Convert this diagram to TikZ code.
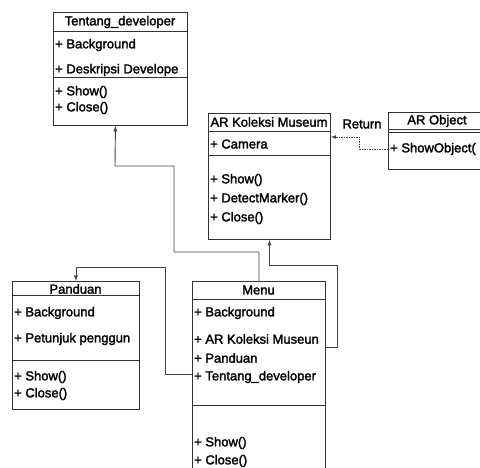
\documentclass[tikz,border=0pt]{standalone}
\usepackage{fontspec}
\setmainfont{Liberation Sans}
\newfontfamily\umlfont[FakeBold=2]{Liberation Sans}
\usetikzlibrary{arrows}

\definecolor{boxgray}{HTML}{333333}
\definecolor{linegray}{HTML}{444444}

\tikzset{
	umlbox/.style={draw=boxgray,line width=0.9pt,inner sep=0pt,anchor=north west},
	sep/.style={draw=boxgray,line width=0.9pt},
	member/.style={anchor=west,inner sep=0pt,font=\umlfont\fontsize{13}{15}\selectfont},
	classname/.style={anchor=center,inner sep=0pt,font=\umlfont\fontsize{13}{15}\selectfont},
	link/.style={draw=linegray,line width=0.9pt,-latex},
	returnlink/.style={draw=linegray,line width=0.7pt,dashed,dash pattern=on 1.5pt off 1pt,-latex}
}

\begin{document}
\begin{tikzpicture}[x=1pt,y=-1pt]
		
		\useasboundingbox (0,0) rectangle (480,468);
		\clip (0,0) rectangle (480,468);
		
		% Tentang_developer
		\node[umlbox,minimum width=134pt,minimum height=113pt] (tentang) at (53,12) {};
		\draw[sep] (53,31) -- (187,31);
		\draw[sep] (53,77) -- (187,77);
		\node[classname] (tentang-name) at (120,22) {Tentang\_developer};
		\node[member] (tentang-a1) at (55,45) {+ Background};
		\node[member] (tentang-a2) at (55,70) {+ Deskripsi Develope};
		\node[member] (tentang-m1) at (55,92) {+ Show()};
		\node[member] (tentang-m2) at (55,108) {+ Close()};
		
		% AR Koleksi Museum
		\node[umlbox,minimum width=122pt,minimum height=126pt] (koleksi) at (208,113) {};
		\draw[sep] (208,131) -- (330,131);
		\draw[sep] (208,155) -- (330,155);
		\node[classname] (koleksi-name) at (269,122) {AR Koleksi Museum};
		\node[member] (koleksi-a1) at (210,144) {+ Camera};
		\node[member] (koleksi-m1) at (210,180) {+ Show()};
		\node[member] (koleksi-m2) at (210,199) {+ DetectMarker()};
		\node[member] (koleksi-m3) at (210,218) {+ Close()};
		
		% AR Object
		\node[umlbox,minimum width=100pt,minimum height=57pt] (object) at (388,112) {};
		\draw[sep] (388,129) -- (488,129);
		\draw[sep] (388,132) -- (488,132);
		\node[classname] (object-name) at (437,121) {AR Object};
		\node[member] (object-m1) at (390,149) {+ ShowObject(};
		
		% Panduan
		\node[umlbox,minimum width=127pt,minimum height=128pt] (panduan) at (12,281) {};
		\draw[sep] (12,295) -- (139,295);
		\draw[sep] (12,360) -- (139,360);
		\node[classname] (panduan-name) at (75.5,289) {Panduan};
		\node[member] (panduan-a1) at (14,313) {+ Background};
		\node[member] (panduan-a2) at (14,339) {+ Petunjuk penggun};
		\node[member] (panduan-m1) at (14,377) {+ Show()};
		\node[member] (panduan-m2) at (14,394) {+ Close()};
		
		% Menu
		\node[umlbox,minimum width=133pt,minimum height=200pt] (menu) at (192,281) {};
		\draw[sep] (192,299) -- (325,299);
		\draw[sep] (192,405) -- (325,405);
		\node[classname] (menu-name) at (258.5,290) {Menu};
		\node[member] (menu-a1) at (194,313) {+ Background};
		\node[member] (menu-a2) at (194,339) {+ AR Koleksi Museun};
		\node[member] (menu-a3) at (194,358) {+ Panduan};
		\node[member] (menu-a4) at (194,377) {+ Tentang\_developer};
		\node[member] (menu-m1) at (194,443) {+ Show()};
		\node[member] (menu-m2) at (194,461) {+ Close()};
		
		% Menu -> Tentang_developer
		\draw[link] (menu.north) |- (174,252) |- (115,166) -- ([xshift=-5pt]tentang.south);
		
		% Menu -> AR Koleksi Museum
		\draw[link] (menu.east |- 0,347) -| (337,265) -| (koleksi.south);
		
		% Menu -> Panduan
		\draw[link] (menu.west |- 0,374) -| (165,267) -| (panduan.north);
		
		% AR Object -> AR Koleksi Museum
		\draw[returnlink] (object.west |- 0,149) -| (359,137) -- (koleksi.east |- 0,137);
		\node[classname] (return) at (362,124) {Return};
		
	\end{tikzpicture}
\end{document}
